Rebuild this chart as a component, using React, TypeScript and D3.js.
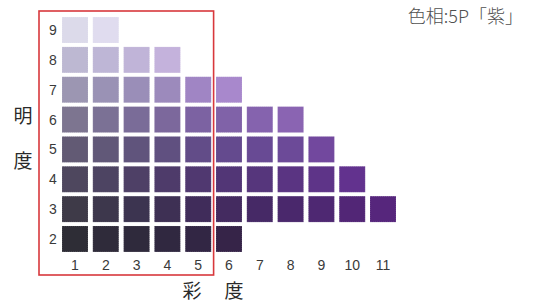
import React, { useEffect, useRef } from "react";
import * as d3 from "d3";

// munsell chips, hue 5P, one array per value (明度), index = chroma - 1
const values = [9, 8, 7, 6, 5, 4, 3, 2];
const chromas = [1, 2, 3, 4, 5, 6, 7, 8, 9, 10, 11];

const value9 = ["#dcdaea", "#e0dcef"];
const value8 = ["#bdb8d2", "#beb6d6", "#c0b4d8", "#c4b2dc"];
const value7 = ["#9c96b2", "#9a92b5", "#9a8eb8", "#9c8abc", "#a085c4", "#a888cc"];
const value6 = ["#7d7590", "#7b7195", "#7a6c98", "#7c689c", "#7c62a2", "#8062a8", "#8563ae", "#8a64b2"];
const value5 = ["#625a74", "#615878", "#60547c", "#605080", "#624c88", "#644a8e", "#684a94", "#6c4a98", "#72489e"];
const value4 = ["#4e475e", "#4d4462", "#4e4066", "#4e3b6a", "#503870", "#523676", "#56367c", "#5a3482", "#5e3488", "#62328e"];
const value3 = ["#3e3a48", "#3d374c", "#3c3450", "#3e3054", "#402c5a", "#442b60", "#462966", "#4a286c", "#4e2872", "#522676", "#56267c"];
const value2 = ["#2e2d36", "#2f2b3a", "#2f2a3c", "#302840", "#322644", "#362448"];

const rows = [value9, value8, value7, value6, value5, value4, value3, value2];
const highlight = [1, 5]; // chroma range inside the red frame

const W = 535;
const H = 304;

export default function App() {
    const ref = useRef<SVGSVGElement>(null);

    useEffect(() => {
        const svg = d3.select(ref.current);
        svg.selectAll("*").remove();

        const x = d3.scaleBand<number>()
            .domain(chromas)
            .range([59.6, 398.4])
            .paddingInner(0.156)
            .paddingOuter(0.078);
        const y = d3.scaleBand<number>()
            .domain(values)
            .range([15.1, 253.9])
            .paddingInner(0.13)
            .paddingOuter(0.065);

        const cells = values.flatMap((v, i) =>
            rows[i].map((color, j) => ({ value: v, chroma: chromas[j], color }))
        );

        svg.append("g")
            .selectAll("rect")
            .data(cells)
            .join("rect")
            .attr("x", d => x(d.chroma)!)
            .attr("y", d => y(d.value)!)
            .attr("width", x.bandwidth())
            .attr("height", y.bandwidth())
            .attr("fill", d => d.color)
            .attr("stroke", "#ffffff")
            .attr("stroke-opacity", 0.35)
            .attr("stroke-width", 0.6)
            .attr("stroke-dasharray", "1,1");

        // value labels
        svg.append("g")
            .selectAll("text")
            .data(values)
            .join("text")
            .attr("x", 53)
            .attr("y", d => y(d)! + y.bandwidth() / 2)
            .attr("dy", "0.36em")
            .attr("text-anchor", "middle")
            .attr("font-family", "Liberation Sans, Arial, sans-serif")
            .attr("font-size", 14)
            .attr("fill", "#3a3a3a")
            .text(d => d);

        // chroma labels
        svg.append("g")
            .selectAll("text")
            .data(chromas)
            .join("text")
            .attr("x", d => x(d)! + x.bandwidth() / 2)
            .attr("y", 265)
            .attr("dy", "0.36em")
            .attr("text-anchor", "middle")
            .attr("font-family", "Liberation Sans, Arial, sans-serif")
            .attr("font-size", 14)
            .attr("fill", "#3a3a3a")
            .text(d => d);

        // red frame around chroma 1-5
        const frameX0 = 39;
        const frameX1 = (x(highlight[1])! + x.bandwidth() + x(highlight[1] + 1)!) / 2;
        svg.append("rect")
            .attr("x", frameX0)
            .attr("y", 11)
            .attr("width", frameX1 - frameX0)
            .attr("height", 275 - 11)
            .attr("fill", "none")
            .attr("stroke", "#d8383c")
            .attr("stroke-width", 1.6);

        const cjk = "Noto Sans CJK JP, sans-serif";

        // 明度
        svg.append("text")
            .attr("x", 23).attr("y", 116).attr("dy", "0.36em")
            .attr("text-anchor", "middle")
            .attr("font-family", cjk).attr("font-size", 19)
            .attr("fill", "#2a2a2a")
            .text("明");
        svg.append("text")
            .attr("x", 23).attr("y", 161).attr("dy", "0.36em")
            .attr("text-anchor", "middle")
            .attr("font-family", cjk).attr("font-size", 19)
            .attr("fill", "#2a2a2a")
            .text("度");

        // 彩度
        svg.append("text")
            .attr("x", 192).attr("y", 291).attr("dy", "0.36em")
            .attr("text-anchor", "middle")
            .attr("font-family", cjk).attr("font-size", 19)
            .attr("fill", "#2a2a2a")
            .text("彩");
        svg.append("text")
            .attr("x", 234).attr("y", 291).attr("dy", "0.36em")
            .attr("text-anchor", "middle")
            .attr("font-family", cjk).attr("font-size", 19)
            .attr("fill", "#2a2a2a")
            .text("度");

        // hue note
        svg.append("text")
            .attr("x", 523).attr("y", 17).attr("dy", "0.36em")
            .attr("text-anchor", "end")
            .attr("font-family", cjk).attr("font-size", 18)
            .attr("font-weight", 300)
            .attr("fill", "#505050")
            .text("色相:5P「紫」");
    }, []);

    return (
        <svg
            ref={ref}
            width={W}
            height={H}
            style={{ position: "absolute", left: 0, top: 0, background: "#ffffff" }}
        />
    );
}
